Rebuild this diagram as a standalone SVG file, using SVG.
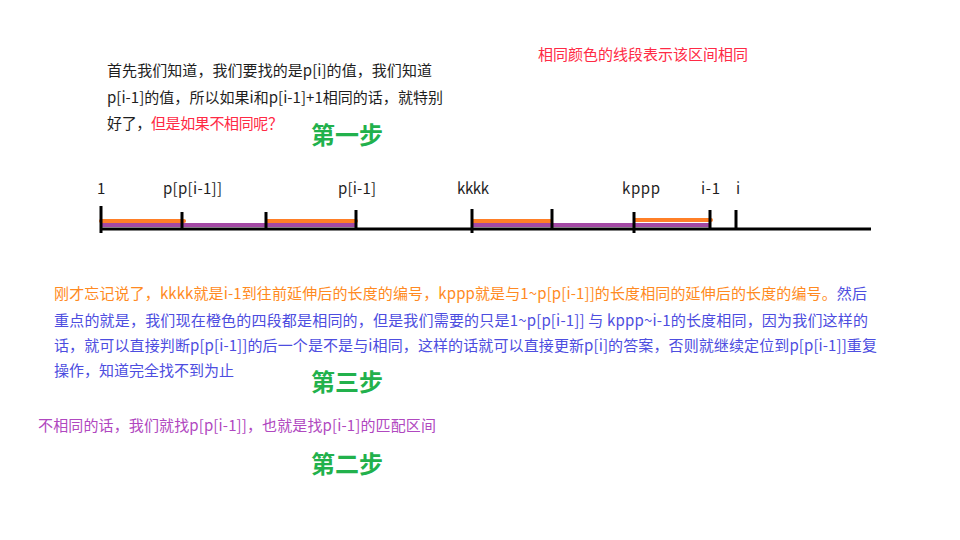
<svg xmlns="http://www.w3.org/2000/svg" width="960" height="540" viewBox="0 0 960 540">
<style>
text{font-family:"Microsoft YaHei","Noto Sans CJK SC","Noto Sans",sans-serif;font-size:15px}
.dk{fill:#1e1e1e}
.red{fill:#ff2a45}
.org{fill:#ff8a22}
.blu{fill:#4d4de0}
.pur{fill:#b048c0}
.step{fill:#22b14c;font-size:24px;font-weight:bold}
.tick{stroke:#000;stroke-width:3}
.base{stroke:#000;stroke-width:3}
.o{stroke:#ff7f27;stroke-width:4;stroke-linecap:round}
.p{stroke:#a349a4;stroke-width:4}
</style>
<rect width="960" height="540" fill="#fff"/>
<g id="intro">
<text class="dk" x="107" y="76" textLength="325">首先我们知道，我们要找的是p[i]的值，我们知道</text>
<text class="dk" x="107" y="103" textLength="336">p[i-1]的值，所以如果i和p[i-1]+1相同的话，就特别</text>
<text class="dk" x="107" y="129" textLength="176">好了，<tspan class="red">但是如果不相同呢？</tspan></text>
</g>
<g id="legend"><text class="red" x="538" y="60" textLength="210">相同颜色的线段表示该区间相同</text></g>
<g id="step1"><text class="step" x="311" y="144">第一步</text></g>
<g id="labels">
<text class="dk" x="97" y="194">1</text>
<text class="dk" x="163" y="194" textLength="59">p[p[i-1]]</text>
<text class="dk" x="338" y="194" textLength="38">p[i-1]</text>
<text class="dk" x="457" y="194" textLength="32">kkkk</text>
<text class="dk" x="622" y="194" textLength="38">kppp</text>
<text class="dk" x="701" y="194" textLength="19">i-1</text>
<text class="dk" x="736" y="194">i</text>
</g>
<g id="connectors">
<line class="p" x1="101" y1="225" x2="357" y2="225"/>
<line class="p" x1="472" y1="225" x2="710" y2="225"/>
<line class="o" x1="101" y1="221" x2="184" y2="221"/>
<line class="o" x1="267" y1="221" x2="356" y2="221"/>
<line class="o" x1="473" y1="221" x2="550" y2="221"/>
<line class="o" x1="635" y1="220" x2="711" y2="220"/>
<line class="base" x1="100" y1="229" x2="871" y2="229"/>
<line class="tick" x1="101" y1="206" x2="101" y2="233"/>
<line class="tick" x1="182" y1="212" x2="182" y2="229"/>
<line class="tick" x1="266" y1="212" x2="266" y2="229"/>
<line class="tick" x1="356" y1="210" x2="356" y2="229"/>
<line class="tick" x1="472" y1="209" x2="472" y2="233"/>
<line class="tick" x1="552" y1="209" x2="552" y2="229"/>
<line class="tick" x1="634" y1="212" x2="634" y2="233"/>
<line class="tick" x1="710" y1="210" x2="710" y2="229"/>
<line class="tick" x1="736" y1="210" x2="736" y2="229"/>
</g>
<g id="explain">
<text class="org" x="54" y="299" textLength="813">刚才忘记说了，kkkk就是i-1到往前延伸后的长度的编号，kppp就是与1~p[p[i-1]]的长度相同的延伸后的长度的编号。<tspan class="blu">然后</tspan></text>
<text class="blu" x="54" y="326" textLength="814">重点的就是，我们现在橙色的四段都是相同的，但是我们需要的只是1~p[p[i-1]] 与 kppp~i-1的长度相同，因为我们这样的</text>
<text class="blu" x="54" y="351" textLength="823">话，就可以直接判断p[p[i-1]]的后一个是不是与i相同，这样的话就可以直接更新p[i]的答案，否则就继续定位到p[p[i-1]]重复</text>
<text class="blu" x="54" y="376" textLength="180">操作，知道完全找不到为止</text>
</g>
<g id="step3"><text class="step" x="311" y="391">第三步</text></g>
<g id="notsame"><text class="pur" x="38" y="431" textLength="398">不相同的话，我们就找p[p[i-1]]，也就是找p[i-1]的匹配区间</text></g>
<g id="step2"><text class="step" x="311" y="473">第二步</text></g>
</svg>
